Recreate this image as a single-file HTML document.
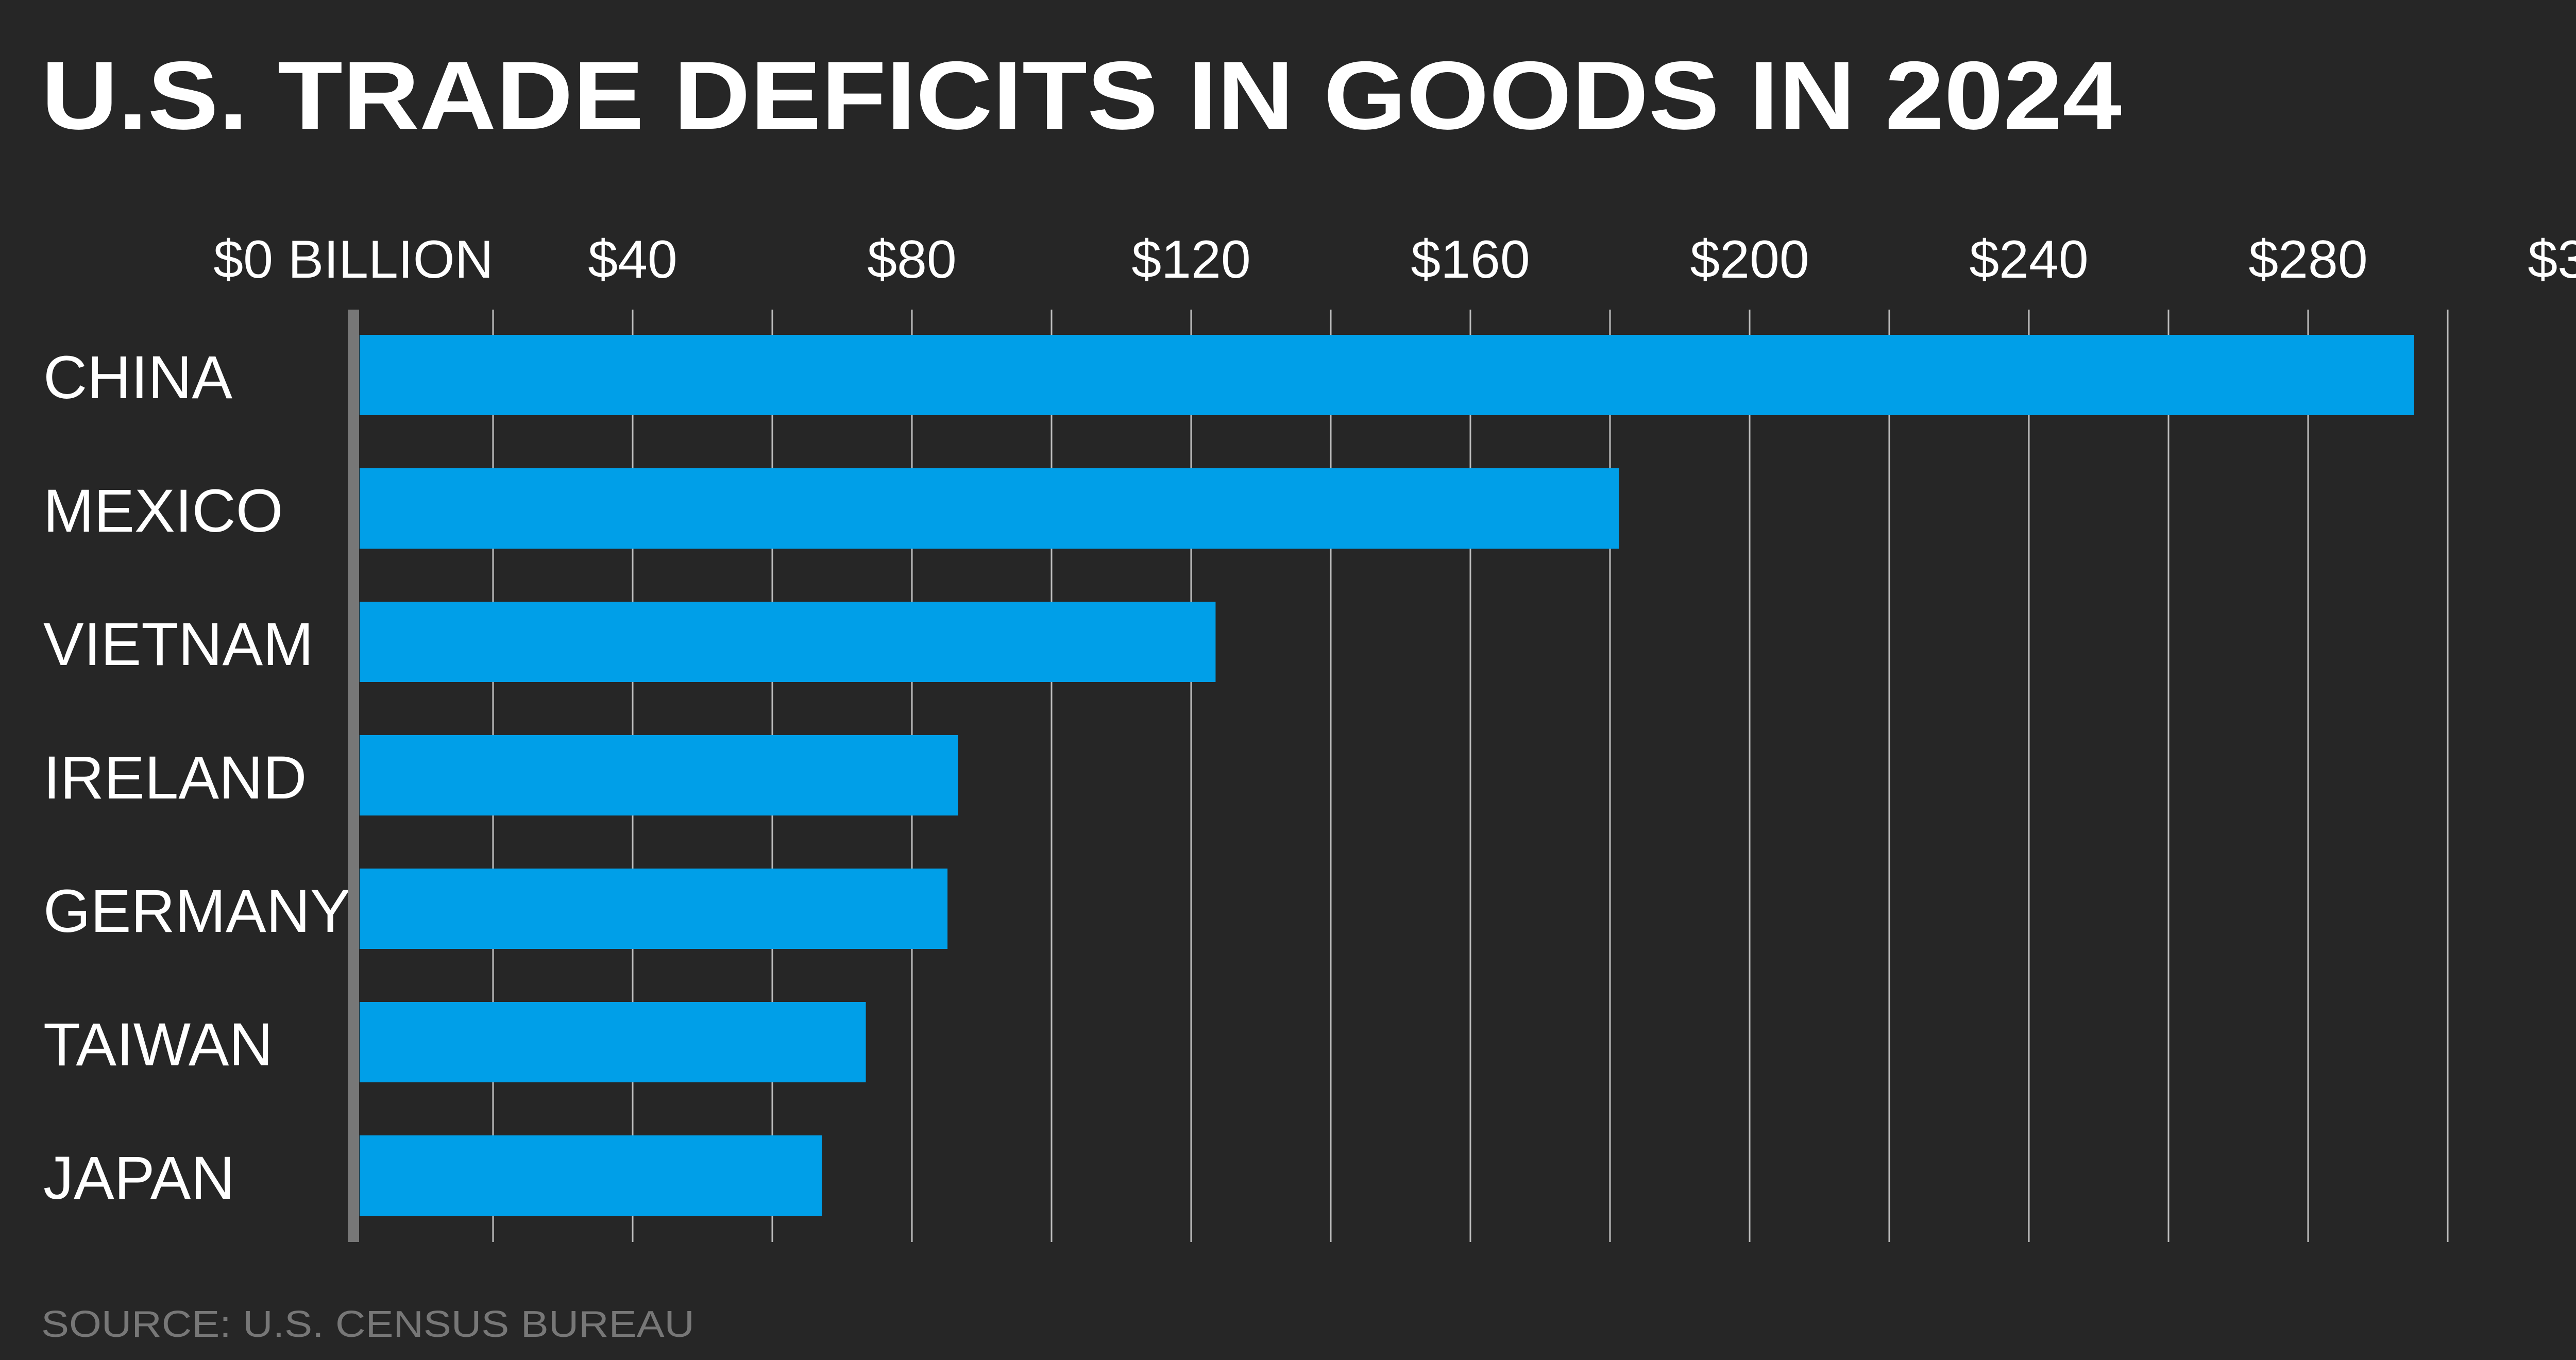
<!DOCTYPE html>
<html><head><meta charset="utf-8">
<style>
html,body{margin:0;padding:0;background:#262626;}
svg{display:block;}
text{font-family:"Liberation Sans",sans-serif;}
</style></head>
<body>
<svg id="chart" width="5094" height="2640" viewBox="0 0 5094 2640" xmlns="http://www.w3.org/2000/svg">
<rect x="0" y="0" width="5094" height="2640" fill="#262626"/>
<text x="80" y="250" font-size="188" font-weight="bold" fill="#ffffff" textLength="4038" lengthAdjust="spacingAndGlyphs">U.S. TRADE DEFICITS IN GOODS IN 2024</text>
<g id="grid"></g>
<g id="ticks"></g>
<g id="bars"></g>
<g id="cats"></g>
<rect x="675" y="601" width="22" height="1810" fill="#777777"/>
<text x="80" y="2595" font-size="72" fill="#777777" textLength="1268" lengthAdjust="spacingAndGlyphs">SOURCE: U.S. CENSUS BUREAU</text>
</svg>
<script>
const categories = ["CHINA","MEXICO","VIETNAM","IRELAND","GERMANY","TAIWAN","JAPAN"];
const values = [295.2, 181.3, 123.5, 86.6, 85.1, 73.4, 67.1];
const gridValues = [20,40,60,80,100,120,140,160,180,200,220,240,260,280,300,320];
const tickValues = [0,40,80,120,160,200,240,280,320];
const tickLabels = ["$0 BILLION","$40","$80","$120","$160","$200","$240","$280","$320"];

const NS = "http://www.w3.org/2000/svg";
const x0 = 686, xMax = 5022, vMax = 320;
function xScale(v){ return x0 + (xMax - x0) * v / vMax; }
const rowTop = 650, rowStep = 259, barH = 156;
function yScale(i){ return rowTop + i * rowStep; }

const grid = document.getElementById('grid');
gridValues.forEach(v => {
  const l = document.createElementNS(NS,'line');
  
  
  l.setAttribute('x1', xScale(v)); l.setAttribute('x2', xScale(v));
  l.setAttribute('y1', 601); l.setAttribute('y2', 2411);
  l.setAttribute('stroke','#bdbdbd'); l.setAttribute('stroke-width','3');
  grid.appendChild(l);
});

const ticks = document.getElementById('ticks');
tickValues.forEach((v,i) => {
  const t = document.createElementNS(NS,'text');
  
  
  t.setAttribute('x', xScale(v)); t.setAttribute('y', 539);
  t.setAttribute('text-anchor','middle');
  t.setAttribute('font-size','104');
  t.setAttribute('fill','#ffffff');
  t.textContent = tickLabels[i];
  ticks.appendChild(t);
});

const bars = document.getElementById('bars');
const cats = document.getElementById('cats');
values.forEach((v,i) => {
  const r = document.createElementNS(NS,'rect');
  
  
  r.setAttribute('x', 698);
  r.setAttribute('y', yScale(i));
  r.setAttribute('width', xScale(v) - 698);
  r.setAttribute('height', barH);
  r.setAttribute('fill','#009fe8');
  bars.appendChild(r);

  const t = document.createElementNS(NS,'text');
  
  
  t.setAttribute('x', 84);
  t.setAttribute('y', yScale(i) + barH/2 + 45);
  t.setAttribute('font-size','118');
  t.setAttribute('fill','#ffffff');
  t.textContent = categories[i];
  cats.appendChild(t);
});
</script>
</body></html>
